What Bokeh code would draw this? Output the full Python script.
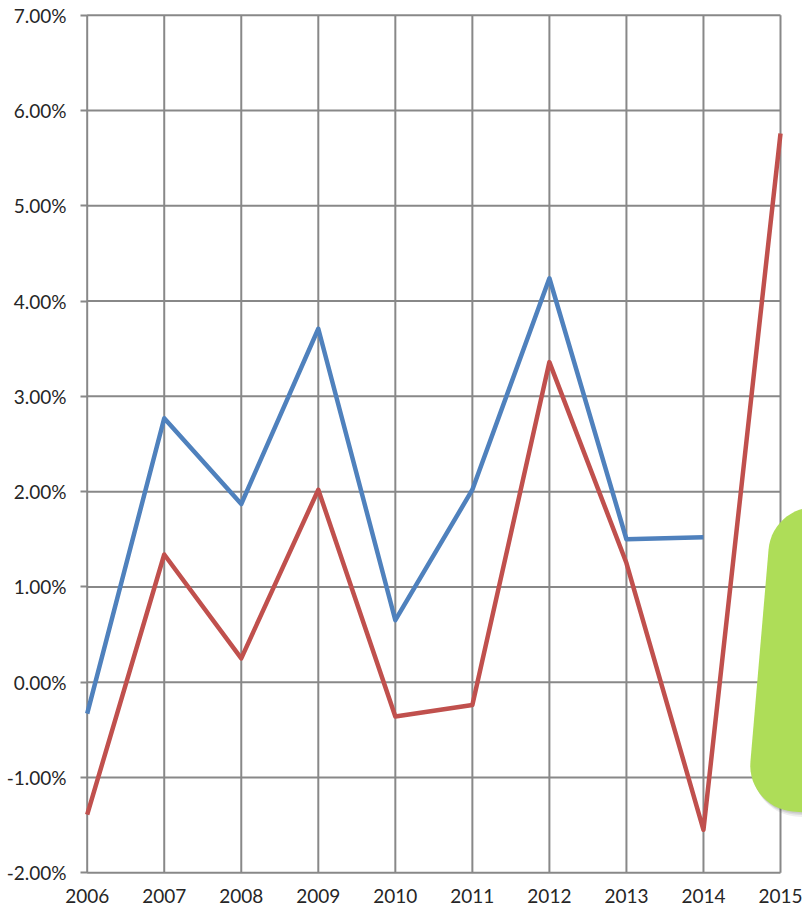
import math
import numpy as np
from bokeh.plotting import figure
from bokeh.models import Range1d, FixedTicker, PrintfTickFormatter
from bokeh.embed import file_html
from bokeh.resources import INLINE

# ---- data ----
years = [2006, 2007, 2008, 2009, 2010, 2011, 2012, 2013, 2014, 2015]
series_blue = [-0.33, 2.77, 1.87, 3.71, 0.65, 2.02, 4.24, 1.50, 1.52, float("nan")]
series_red = [-1.39, 1.34, 0.25, 2.02, -0.36, -0.24, 3.36, 1.25, -1.55, 5.76]
y_ticks = [-2, -1, 0, 1, 2, 3, 4, 5, 6, 7]

# ---- layout ----
W, H = 802, 910
BL, BR, BT, BB = 84, 0, 12, 35
FW, FH = W - BL - BR, H - BT - BB
X0, X1 = 2005.965, 2015.2856
Y0, Y1 = -2.03, 7.03

p = figure(width=W, height=H, output_backend="svg", toolbar_location=None,
           x_range=Range1d(X0, X1), y_range=Range1d(Y0, Y1),
           min_border_left=BL, min_border_right=BR, min_border_top=BT,
           min_border_bottom=BB)
p.outline_line_color = None
p.background_fill_color = "white"
p.border_fill_color = "white"
p.xgrid.visible = False
p.ygrid.visible = False

GRID = "#888888"
# grid lines drawn from the tick arrays
p.segment(x0=years, y0=[y_ticks[0]] * len(years), x1=years, y1=[y_ticks[-1]] * len(years),
          line_color=GRID, line_width=2)
p.segment(x0=[years[0]] * len(y_ticks), y0=y_ticks, x1=[years[-1]] * len(y_ticks), y1=y_ticks,
          line_color=GRID, line_width=2)

p.line(years, series_blue, line_color="#4F81BD", line_width=4.5, line_join="round")
p.line(years, series_red, line_color="#C0504D", line_width=4.5, line_join="round")

# ---- decorative green rounded callout (pixel space -> data) ----
def px2x(px):
    return X0 + (px - BL) / FW * (X1 - X0)

def py2y(py):
    return Y1 - (py - BT) / FH * (Y1 - Y0)

def rounded_poly(verts, r, n=16):
    out = []
    k = len(verts)
    for i in range(k):
        V = np.array(verts[i], float)
        P = np.array(verts[i - 1], float)
        N = np.array(verts[(i + 1) % k], float)
        u1 = (P - V) / np.linalg.norm(P - V)
        u2 = (N - V) / np.linalg.norm(N - V)
        C = V + r * (u1 + u2)
        for t in np.linspace(0, math.pi / 2, n):
            pt = C - r * (math.cos(t) * u2 + math.sin(t) * u1)
            out.append(pt)
    return np.array(out)

s = 0.086
TLc = (772.0, 503.0)
TRc = (TLc[0] + 130, TLc[1] + s * 130)
BLc = (746.0, 807.0)
BRc = (BLc[0] + 156, BLc[1] + s * 156)
shape = rounded_poly([TLc, TRc, BRc, BLc], 46)

for dx, dy, a in [(3, 5, 0.10), (2, 3, 0.12), (1, 1.5, 0.12)]:
    p.patch([px2x(v[0] + dx) for v in shape], [py2y(v[1] + dy) for v in shape],
            fill_color="#555555", fill_alpha=a, line_color=None)
p.patch([px2x(v[0]) for v in shape], [py2y(v[1]) for v in shape],
        fill_color="#AEDD58", line_color=None)

# ---- axes ----
FONT = "Lato"
TXT = "#262626"
xa = p.xaxis[0]
xa.ticker = FixedTicker(ticks=years)
xa.axis_line_color = None
xa.major_tick_line_color = None
xa.minor_tick_line_color = None
xa.major_tick_out = 0
xa.major_tick_in = 0
xa.major_label_standoff = 13
xa.major_label_text_font = FONT
xa.major_label_text_font_size = "19px"
xa.major_label_text_color = TXT

ya = p.yaxis[0]
ya.ticker = FixedTicker(ticks=y_ticks)
ya.formatter = PrintfTickFormatter(format="%.2f%%")
ya.axis_line_color = None
ya.minor_tick_line_color = None
ya.major_tick_line_color = GRID
ya.major_tick_line_width = 2
ya.major_tick_out = 4
ya.major_tick_in = 3
ya.major_label_standoff = 14
ya.major_label_text_font = FONT
ya.major_label_text_font_size = "19px"
ya.major_label_text_color = TXT

open("out.html", "w").write(file_html(p, INLINE))
